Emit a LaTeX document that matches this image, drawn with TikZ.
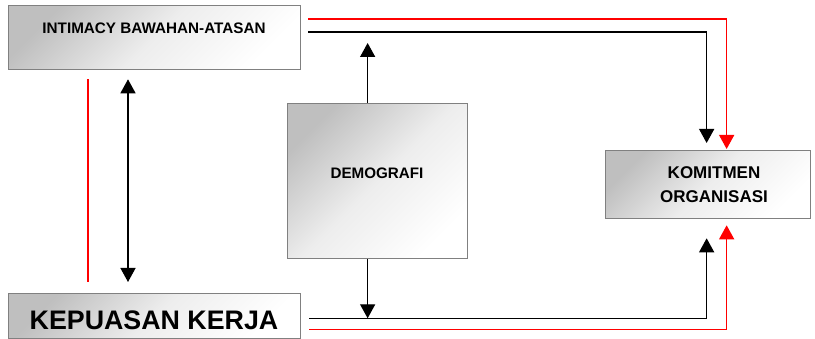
\documentclass[tikz,border=0pt]{standalone}
\usepackage{fontspec}
\setmainfont{Liberation Sans}
\usetikzlibrary{arrows.meta,calc}
\tikzset{
  box/.style={draw=black!50, line width=1.3pt, top color=black!25, bottom color=white, middle color=black!7, shading angle=45, inner sep=0pt, anchor=north west},
  lbl/.style={font=\bfseries, inner sep=0pt, align=center},
  blk/.style={draw=black, line width=1.4pt, -{Triangle[length=14pt,width=15pt]}},
  rd/.style={draw=red, line width=1.4pt, -{Triangle[length=14pt,width=15pt]}},
}
\begin{document}
\begin{tikzpicture}[x=1pt,y=-1pt]
\useasboundingbox (0,0) rectangle (815,339);
\node[box, minimum width=292pt, minimum height=64pt] (intimacy) at (8,5) {};
\node[box, minimum width=180pt, minimum height=155pt] (demo) at (287,103) {};
\node[box, minimum width=205pt, minimum height=68pt] (komit) at (605,150) {};
\node[box, minimum width=292pt, minimum height=45pt] (kepuasan) at (8,293) {};

\node[lbl, font=\bfseries\fontsize{15.25pt}{18pt}\selectfont] (tIntimacy) at (154,28) {INTIMACY BAWAHAN-ATASAN};
\node[lbl, font=\bfseries\fontsize{15.2pt}{18pt}\selectfont] (tDemo) at (377,173) {DEMOGRAFI};
\node[lbl, font=\bfseries\fontsize{17pt}{24pt}\selectfont] (tKomit) at (714,185) {KOMITMEN\\ORGANISASI};
\node[lbl, font=\bfseries\fontsize{26.8pt}{30pt}\selectfont] (tKepuasan) at (154,320) {KEPUASAN KERJA};

% left side
\draw[red, line width=1.4pt] ($(intimacy.south west)+(80,9)$) -- ($(kepuasan.north west)+(80,-11)$);
\draw[blk, {Triangle[length=14pt,width=15pt]}-{Triangle[length=14pt,width=15pt]}] ($(intimacy.south west)+(120,9)$) -- ($(kepuasan.north west)+(120,-11)$);

% top lines to komitmen
\draw[rd] ($(intimacy.north east)+(7,14)$) -| ($(komit.north)+(18.5,-1)$);
\draw[blk, shorten >=7pt] ($(intimacy.north east)+(7,27)$) -| ($(komit.north)+(-1.5,0)$);

% bottom lines to komitmen
\draw[blk, shorten >=19pt] ($(kepuasan.south east)+(8,-21)$) -| ($(komit.south)+(-1.5,0)$);
\draw[rd, shorten >=6pt] ($(kepuasan.south east)+(8,-10)$) -| ($(komit.south)+(18.5,0)$);

% demografi arrows
\coordinate (demoUp) at ($(demo.north)+(-10,-60)$);
\coordinate (demoDown) at ($(demo.south)+(-10,59)$);
\draw[blk] ($(demo.north)+(-10,0)$) -- (demoUp);
\draw[blk] ($(demo.south)+(-10,0)$) -- (demoDown);
\end{tikzpicture}
\end{document}
